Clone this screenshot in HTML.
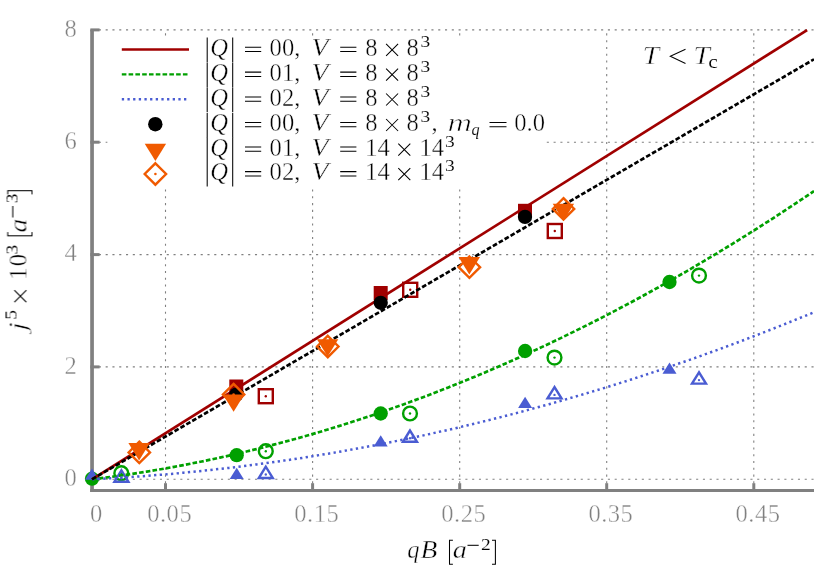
<!DOCTYPE html>
<html><head><meta charset="utf-8"><title>chart</title>
<style>html,body{margin:0;padding:0;background:#fff}svg{display:block}</style></head>
<body>
<svg width="814" height="570" viewBox="0 0 814 570">
<rect width="814" height="570" fill="#fff"/>
<line x1="98.85" y1="479.3" x2="814" y2="479.3" stroke="#808080" stroke-width="1.1" stroke-dasharray="2.1 4.687" fill="none"/>
<line x1="98.85" y1="366.9" x2="814" y2="366.9" stroke="#808080" stroke-width="1.1" stroke-dasharray="2.1 4.687" fill="none"/>
<line x1="98.85" y1="254.6" x2="814" y2="254.6" stroke="#808080" stroke-width="1.1" stroke-dasharray="2.1 4.687" fill="none"/>
<line x1="98.85" y1="142.2" x2="814" y2="142.2" stroke="#808080" stroke-width="1.1" stroke-dasharray="2.1 4.687" fill="none"/>
<line x1="98.85" y1="29.9" x2="814" y2="29.9" stroke="#808080" stroke-width="1.1" stroke-dasharray="2.1 4.687" fill="none"/>
<line x1="165.5" y1="490.2" x2="165.5" y2="30" stroke="#808080" stroke-width="1.1" stroke-dasharray="2.1 4.687" fill="none"/>
<line x1="312.6" y1="490.2" x2="312.6" y2="30" stroke="#808080" stroke-width="1.1" stroke-dasharray="2.1 4.687" fill="none"/>
<line x1="459.7" y1="490.2" x2="459.7" y2="30" stroke="#808080" stroke-width="1.1" stroke-dasharray="2.1 4.687" fill="none"/>
<line x1="606.7" y1="490.2" x2="606.7" y2="30" stroke="#808080" stroke-width="1.1" stroke-dasharray="2.1 4.687" fill="none"/>
<line x1="753.8" y1="490.2" x2="753.8" y2="30" stroke="#808080" stroke-width="1.1" stroke-dasharray="2.1 4.687" fill="none"/>
<rect x="107.5" y="37" width="438.5" height="151.5" fill="#fff"/>
<path d="M92.05 29.6V492.1" stroke="#808080" stroke-width="3.7" fill="none"/>
<path d="M90.2 490.5H814" stroke="#808080" stroke-width="3.2" fill="none"/>
<line x1="90.35" y1="479.3" x2="99.6" y2="479.3" stroke="#808080" stroke-width="3"/>
<line x1="90.35" y1="366.9" x2="99.6" y2="366.9" stroke="#808080" stroke-width="3"/>
<line x1="90.35" y1="254.6" x2="99.6" y2="254.6" stroke="#808080" stroke-width="3"/>
<line x1="90.35" y1="142.2" x2="99.6" y2="142.2" stroke="#808080" stroke-width="3"/>
<line x1="90.35" y1="29.9" x2="99.6" y2="29.9" stroke="#808080" stroke-width="3"/>
<line x1="165.5" y1="490" x2="165.5" y2="483.2" stroke="#808080" stroke-width="3"/>
<line x1="312.6" y1="490" x2="312.6" y2="483.2" stroke="#808080" stroke-width="3"/>
<line x1="459.7" y1="490" x2="459.7" y2="483.2" stroke="#808080" stroke-width="3"/>
<line x1="606.7" y1="490" x2="606.7" y2="483.2" stroke="#808080" stroke-width="3"/>
<line x1="753.8" y1="490" x2="753.8" y2="483.2" stroke="#808080" stroke-width="3"/>
<g>
<rect x="229.3" y="379.5" width="14.0" height="14.0" fill="#a00000"/>
<rect x="373.7" y="286.0" width="14.0" height="14.0" fill="#a00000"/>
<rect x="518.0" y="203.8" width="14.0" height="14.0" fill="#a00000"/>
<rect x="258.8" y="389.2" width="14.0" height="14.0" fill="none" stroke="#a00000" stroke-width="2.4"/><circle cx="265.8" cy="396.2" r="1.2" fill="#a00000"/>
<rect x="403.2" y="282.8" width="14.0" height="14.0" fill="none" stroke="#a00000" stroke-width="2.4"/><circle cx="410.2" cy="289.8" r="1.2" fill="#a00000"/>
<rect x="547.8" y="224.0" width="14.0" height="14.0" fill="none" stroke="#a00000" stroke-width="2.4"/><circle cx="554.8" cy="231.0" r="1.2" fill="#a00000"/>
<circle cx="92.0" cy="478.7" r="7.15" fill="#00a000"/>
<circle cx="236.7" cy="455.2" r="7.15" fill="#00a000"/>
<circle cx="380.7" cy="413.5" r="7.15" fill="#00a000"/>
<circle cx="525.1" cy="351.0" r="7.15" fill="#00a000"/>
<circle cx="669.5" cy="282.0" r="7.15" fill="#00a000"/>
<circle cx="121.3" cy="473.2" r="6.9" fill="none" stroke="#00a000" stroke-width="2.4"/><circle cx="121.3" cy="473.2" r="1.2" fill="#00a000"/>
<circle cx="265.8" cy="451.2" r="6.9" fill="none" stroke="#00a000" stroke-width="2.4"/><circle cx="265.8" cy="451.2" r="1.2" fill="#00a000"/>
<circle cx="410.0" cy="413.5" r="6.9" fill="none" stroke="#00a000" stroke-width="2.4"/><circle cx="410.0" cy="413.5" r="1.2" fill="#00a000"/>
<circle cx="554.5" cy="357.6" r="6.9" fill="none" stroke="#00a000" stroke-width="2.4"/><circle cx="554.5" cy="357.6" r="1.2" fill="#00a000"/>
<circle cx="699.0" cy="275.6" r="6.9" fill="none" stroke="#00a000" stroke-width="2.4"/><circle cx="699.0" cy="275.6" r="1.2" fill="#00a000"/>
<path d="M92.0 468.4L85.0 479.7H99.0Z" fill="#4a5cd2"/>
<path d="M236.7 467.8L229.7 479.1H243.7Z" fill="#4a5cd2"/>
<path d="M380.7 435.3L373.7 446.6H387.7Z" fill="#4a5cd2"/>
<path d="M525.1 396.7L518.1 408.0H532.1Z" fill="#4a5cd2"/>
<path d="M669.5 362.5L662.5 373.8H676.5Z" fill="#4a5cd2"/>
<path d="M121.4 470.4L114.4 481.7H128.4Z" fill="none" stroke="#4a5cd2" stroke-width="2.4" stroke-linejoin="miter"/><circle cx="121.4" cy="478.2" r="1.2" fill="#4a5cd2"/>
<path d="M265.8 466.7L258.8 478.0H272.8Z" fill="none" stroke="#4a5cd2" stroke-width="2.4" stroke-linejoin="miter"/><circle cx="265.8" cy="474.5" r="1.2" fill="#4a5cd2"/>
<path d="M410.0 430.5L403.0 441.8H417.0Z" fill="none" stroke="#4a5cd2" stroke-width="2.4" stroke-linejoin="miter"/><circle cx="410.0" cy="438.3" r="1.2" fill="#4a5cd2"/>
<path d="M554.5 387.1L547.5 398.4H561.5Z" fill="none" stroke="#4a5cd2" stroke-width="2.4" stroke-linejoin="miter"/><circle cx="554.5" cy="394.9" r="1.2" fill="#4a5cd2"/>
<path d="M699.0 372.3L692.0 383.6H706.0Z" fill="none" stroke="#4a5cd2" stroke-width="2.4" stroke-linejoin="miter"/><circle cx="699.0" cy="380.1" r="1.2" fill="#4a5cd2"/>
<line x1="92" y1="479.3" x2="807.1" y2="30.1" stroke="#a00000" stroke-width="2.7"/>
<path d="M92.0 479.3L101.1 478.2L110.3 477.0L119.4 475.7L128.6 474.4L137.7 473.0L146.8 471.6L156.0 470.0L165.1 468.5L174.3 466.8L183.4 465.1L192.5 463.3L201.7 461.5L210.8 459.6L219.9 457.6L229.1 455.6L238.2 453.5L247.4 451.3L256.5 449.1L265.6 446.8L274.8 444.4L283.9 442.0L293.1 439.5L302.2 437.0L311.3 434.4L320.5 431.7L329.6 428.9L338.8 426.1L347.9 423.3L357.0 420.3L366.2 417.3L375.3 414.3L384.5 411.1L393.6 407.9L402.7 404.7L411.9 401.3L421.0 398.0L430.2 394.5L439.3 391.0L448.4 387.4L457.6 383.7L466.7 380.0L475.8 376.3L485.0 372.4L494.1 368.5L503.3 364.5L512.4 360.5L521.5 356.4L530.7 352.2L539.8 348.0L549.0 343.7L558.1 339.4L567.2 334.9L576.4 330.4L585.5 325.9L594.7 321.3L603.8 316.6L612.9 311.9L622.1 307.0L631.2 302.2L640.4 297.2L649.5 292.2L658.6 287.2L667.8 282.0L676.9 276.8L686.1 271.6L695.2 266.2L704.3 260.8L713.5 255.4L722.6 249.9L731.7 244.3L740.9 238.6L750.0 232.9L759.2 227.1L768.3 221.3L777.4 215.4L786.6 209.4L795.7 203.4L804.9 197.3L814.0 191.1" fill="none" stroke="#00a000" stroke-width="2.7" stroke-dasharray="4.6 2.19"/>
<path d="M92.0 479.3L101.1 478.8L110.3 478.3L119.4 477.8L128.6 477.2L137.7 476.5L146.8 475.9L156.0 475.1L165.1 474.4L174.3 473.6L183.4 472.7L192.5 471.8L201.7 470.9L210.8 469.9L219.9 468.9L229.1 467.9L238.2 466.8L247.4 465.6L256.5 464.4L265.6 463.2L274.8 461.9L283.9 460.6L293.1 459.3L302.2 457.9L311.3 456.4L320.5 454.9L329.6 453.4L338.8 451.9L347.9 450.2L357.0 448.6L366.2 446.9L375.3 445.2L384.5 443.4L393.6 441.6L402.7 439.7L411.9 437.8L421.0 435.9L430.2 433.9L439.3 431.8L448.4 429.8L457.6 427.7L466.7 425.5L475.8 423.3L485.0 421.1L494.1 418.8L503.3 416.5L512.4 414.1L521.5 411.7L530.7 409.2L539.8 406.7L549.0 404.2L558.1 401.6L567.2 399.0L576.4 396.3L585.5 393.6L594.7 390.9L603.8 388.1L612.9 385.3L622.1 382.4L631.2 379.5L640.4 376.5L649.5 373.5L658.6 370.5L667.8 367.4L676.9 364.2L686.1 361.1L695.2 357.9L704.3 354.6L713.5 351.3L722.6 348.0L731.7 344.6L740.9 341.2L750.0 337.7L759.2 334.2L768.3 330.6L777.4 327.0L786.6 323.4L795.7 319.7L804.9 316.0L814.0 312.3" fill="none" stroke="#4a5cd2" stroke-width="2.5" stroke-dasharray="2.3 3.355"/>
<circle cx="236.3" cy="394.6" r="7.15" fill="#000"/>
<circle cx="380.7" cy="302.8" r="7.15" fill="#000"/>
<circle cx="525.0" cy="216.9" r="7.15" fill="#000"/>
<line x1="92" y1="479.3" x2="814" y2="59.3" stroke="#000" stroke-width="2.7" stroke-dasharray="4.7 2.12"/>
<path d="M139.1 460.5L128.4 443.1H149.8Z" fill="#f05a00"/>
<path d="M233.6 411.7L222.9 394.4H244.3Z" fill="#f05a00"/>
<path d="M327.6 356.6L316.9 339.2H338.3Z" fill="#f05a00"/>
<path d="M469.3 274.5L458.6 257.1H480.0Z" fill="#f05a00"/>
<path d="M563.4 221.0L552.7 203.7H574.1Z" fill="#f05a00"/>
<path d="M139.3 441.7L150.0 452.4L139.3 463.1L128.6 452.4Z" fill="none" stroke="#f05a00" stroke-width="2.4" stroke-linejoin="miter"/><circle cx="139.3" cy="452.4" r="1.3" fill="#f05a00"/>
<path d="M233.6 383.9L244.3 394.6L233.6 405.3L222.9 394.6Z" fill="none" stroke="#f05a00" stroke-width="2.4" stroke-linejoin="miter"/><circle cx="233.6" cy="394.6" r="1.3" fill="#f05a00"/>
<path d="M327.8 335.8L338.5 346.5L327.8 357.2L317.1 346.5Z" fill="none" stroke="#f05a00" stroke-width="2.4" stroke-linejoin="miter"/><circle cx="327.8" cy="346.5" r="1.3" fill="#f05a00"/>
<path d="M469.4 256.5L480.1 267.2L469.4 277.9L458.7 267.2Z" fill="none" stroke="#f05a00" stroke-width="2.4" stroke-linejoin="miter"/><circle cx="469.4" cy="267.2" r="1.3" fill="#f05a00"/>
<path d="M563.5 198.2L574.2 208.9L563.5 219.6L552.8 208.9Z" fill="none" stroke="#f05a00" stroke-width="2.4" stroke-linejoin="miter"/><circle cx="563.5" cy="208.9" r="1.3" fill="#f05a00"/>
</g>
<line x1="121.8" y1="49.5" x2="189" y2="49.5" stroke="#a00000" stroke-width="2.4"/>
<line x1="121.8" y1="74.4" x2="189" y2="74.4" stroke="#00a000" stroke-width="2.4" stroke-dasharray="4.6 2.19"/>
<line x1="121.8" y1="99.3" x2="189" y2="99.3" stroke="#4a5cd2" stroke-width="2.4" stroke-dasharray="2.3 3.355"/>
<circle cx="155.3" cy="124.2" r="7.2" fill="#000"/>
<path d="M155.4 161.1L144.7 143.8H166.1Z" fill="#f05a00"/>
<path d="M155.4 163.3L166.1 174.0L155.4 184.7L144.7 174.0Z" fill="none" stroke="#f05a00" stroke-width="2.4" stroke-linejoin="miter"/><circle cx="155.4" cy="174.0" r="1.3" fill="#f05a00"/>
<g font-family="Liberation Serif, serif" opacity="0.999" stroke="#fff" stroke-width="0.4">
<path d="M207.2 37.5V62.2M232.7 37.5V62.2" stroke="#000" stroke-width="1.05"/>
<text x="210.3" y="56.0" font-size="24.6" font-style="italic" fill="#000" text-anchor="start">Q</text>
<path d="M245 47.2h16.2M245 51.5h16.2" stroke="#000" stroke-width="1.05" fill="none"/>
<text x="269.6" y="56.0" font-size="24.6" fill="#000" text-anchor="start">00,</text>
<text x="311.6" y="56.0" font-size="24.6" font-style="italic" fill="#000" text-anchor="start" textLength="16.98" lengthAdjust="spacingAndGlyphs">V</text>
<path d="M340.2 47.2h16.2M340.2 51.5h16.2" stroke="#000" stroke-width="1.05" fill="none"/>
<text x="365.2" y="56.0" font-size="24.6" fill="#000" text-anchor="start">8</text>
<path d="M386.1 43.8L398.1 55.8M386.1 55.8L398.1 43.8" stroke="#000" stroke-width="1.05" fill="none"/>
<text x="406.6" y="56.0" font-size="24.6" fill="#000" text-anchor="start">8</text>
<text x="420.5" y="47.0" font-size="17.4" fill="#000" text-anchor="start" stroke-width="0.1" textLength="9.74" lengthAdjust="spacingAndGlyphs">3</text>
<path d="M207.2 62.4V87.1M232.7 62.4V87.1" stroke="#000" stroke-width="1.05"/>
<text x="210.3" y="80.9" font-size="24.6" font-style="italic" fill="#000" text-anchor="start">Q</text>
<path d="M245 72.1h16.2M245 76.4h16.2" stroke="#000" stroke-width="1.05" fill="none"/>
<text x="269.6" y="80.9" font-size="24.6" fill="#000" text-anchor="start">01,</text>
<text x="311.6" y="80.9" font-size="24.6" font-style="italic" fill="#000" text-anchor="start" textLength="16.98" lengthAdjust="spacingAndGlyphs">V</text>
<path d="M340.2 72.1h16.2M340.2 76.4h16.2" stroke="#000" stroke-width="1.05" fill="none"/>
<text x="365.2" y="80.9" font-size="24.6" fill="#000" text-anchor="start">8</text>
<path d="M386.1 68.7L398.1 80.7M386.1 80.7L398.1 68.7" stroke="#000" stroke-width="1.05" fill="none"/>
<text x="406.6" y="80.9" font-size="24.6" fill="#000" text-anchor="start">8</text>
<text x="420.5" y="71.9" font-size="17.4" fill="#000" text-anchor="start" stroke-width="0.1" textLength="9.74" lengthAdjust="spacingAndGlyphs">3</text>
<path d="M207.2 87.2V111.9M232.7 87.2V111.9" stroke="#000" stroke-width="1.05"/>
<text x="210.3" y="105.7" font-size="24.6" font-style="italic" fill="#000" text-anchor="start">Q</text>
<path d="M245 96.9h16.2M245 101.2h16.2" stroke="#000" stroke-width="1.05" fill="none"/>
<text x="269.6" y="105.7" font-size="24.6" fill="#000" text-anchor="start">02,</text>
<text x="311.6" y="105.7" font-size="24.6" font-style="italic" fill="#000" text-anchor="start" textLength="16.98" lengthAdjust="spacingAndGlyphs">V</text>
<path d="M340.2 96.9h16.2M340.2 101.2h16.2" stroke="#000" stroke-width="1.05" fill="none"/>
<text x="365.2" y="105.7" font-size="24.6" fill="#000" text-anchor="start">8</text>
<path d="M386.1 93.5L398.1 105.5M386.1 105.5L398.1 93.5" stroke="#000" stroke-width="1.05" fill="none"/>
<text x="406.6" y="105.7" font-size="24.6" fill="#000" text-anchor="start">8</text>
<text x="420.5" y="96.7" font-size="17.4" fill="#000" text-anchor="start" stroke-width="0.1" textLength="9.74" lengthAdjust="spacingAndGlyphs">3</text>
<path d="M207.2 112.7V137.4M232.7 112.7V137.4" stroke="#000" stroke-width="1.05"/>
<text x="210.3" y="131.2" font-size="24.6" font-style="italic" fill="#000" text-anchor="start">Q</text>
<path d="M245 122.4h16.2M245 126.7h16.2" stroke="#000" stroke-width="1.05" fill="none"/>
<text x="269.6" y="131.2" font-size="24.6" fill="#000" text-anchor="start">00,</text>
<text x="311.6" y="131.2" font-size="24.6" font-style="italic" fill="#000" text-anchor="start" textLength="16.98" lengthAdjust="spacingAndGlyphs">V</text>
<path d="M340.2 122.4h16.2M340.2 126.7h16.2" stroke="#000" stroke-width="1.05" fill="none"/>
<text x="365.2" y="131.2" font-size="24.6" fill="#000" text-anchor="start">8</text>
<path d="M386.1 119.0L398.1 131.0M386.1 131.0L398.1 119.0" stroke="#000" stroke-width="1.05" fill="none"/>
<text x="406.6" y="131.2" font-size="24.6" fill="#000" text-anchor="start">8</text>
<text x="420.5" y="122.19999999999999" font-size="17.4" fill="#000" text-anchor="start" stroke-width="0.1" textLength="9.74" lengthAdjust="spacingAndGlyphs">3</text>
<path d="M207.2 137.3V162.0M232.7 137.3V162.0" stroke="#000" stroke-width="1.05"/>
<text x="210.3" y="155.8" font-size="24.6" font-style="italic" fill="#000" text-anchor="start">Q</text>
<path d="M245 147.0h16.2M245 151.3h16.2" stroke="#000" stroke-width="1.05" fill="none"/>
<text x="269.6" y="155.8" font-size="24.6" fill="#000" text-anchor="start">01,</text>
<text x="311.6" y="155.8" font-size="24.6" font-style="italic" fill="#000" text-anchor="start" textLength="16.98" lengthAdjust="spacingAndGlyphs">V</text>
<path d="M340.2 147.0h16.2M340.2 151.3h16.2" stroke="#000" stroke-width="1.05" fill="none"/>
<text x="365.2" y="155.8" font-size="24.6" fill="#000" text-anchor="start">14</text>
<path d="M398.3 143.6L410.3 155.6M398.3 155.6L410.3 143.6" stroke="#000" stroke-width="1.05" fill="none"/>
<text x="419.4" y="155.8" font-size="24.6" fill="#000" text-anchor="start">14</text>
<text x="445" y="146.8" font-size="17.4" fill="#000" text-anchor="start" stroke-width="0.1" textLength="9.74" lengthAdjust="spacingAndGlyphs">3</text>
<path d="M207.2 161.9V186.6M232.7 161.9V186.6" stroke="#000" stroke-width="1.05"/>
<text x="210.3" y="180.4" font-size="24.6" font-style="italic" fill="#000" text-anchor="start">Q</text>
<path d="M245 171.6h16.2M245 175.9h16.2" stroke="#000" stroke-width="1.05" fill="none"/>
<text x="269.6" y="180.4" font-size="24.6" fill="#000" text-anchor="start">02,</text>
<text x="311.6" y="180.4" font-size="24.6" font-style="italic" fill="#000" text-anchor="start" textLength="16.98" lengthAdjust="spacingAndGlyphs">V</text>
<path d="M340.2 171.6h16.2M340.2 175.9h16.2" stroke="#000" stroke-width="1.05" fill="none"/>
<text x="365.2" y="180.4" font-size="24.6" fill="#000" text-anchor="start">14</text>
<path d="M398.3 168.2L410.3 180.2M398.3 180.2L410.3 168.2" stroke="#000" stroke-width="1.05" fill="none"/>
<text x="419.4" y="180.4" font-size="24.6" fill="#000" text-anchor="start">14</text>
<text x="445" y="171.4" font-size="17.4" fill="#000" text-anchor="start" stroke-width="0.1" textLength="9.74" lengthAdjust="spacingAndGlyphs">3</text>
<text x="431.5" y="131.2" font-size="24.6" fill="#000" text-anchor="start">,</text>
<text x="447.6" y="131.2" font-size="24.6" font-style="italic" fill="#000" text-anchor="start" stroke-width="0.63" textLength="24.51" lengthAdjust="spacingAndGlyphs">m</text>
<text x="471.6" y="134.6" font-size="16.2" font-style="italic" fill="#000" text-anchor="start" stroke-width="0.1">q</text>
<path d="M489.5 122.4h17M489.5 126.7h17" stroke="#000" stroke-width="1.05" fill="none"/>
<text x="514.2" y="131.2" font-size="24.6" fill="#000" text-anchor="start">0.0</text>
<text x="642.4" y="63.5" font-size="24.6" font-style="italic" fill="#000" text-anchor="start" stroke-width="0.53" textLength="16.69" lengthAdjust="spacingAndGlyphs">T</text>
<path d="M685.5 49.2L670.3 56.3L685.5 63.4" stroke="#000" stroke-width="1.05" fill="none"/>
<text x="693.2" y="63.5" font-size="24.6" font-style="italic" fill="#000" text-anchor="start" stroke-width="0.53" textLength="16.69" lengthAdjust="spacingAndGlyphs">T</text>
<text x="708.2" y="68.2" font-size="18" fill="#000" text-anchor="start" stroke-width="0.1" textLength="9.59" lengthAdjust="spacingAndGlyphs">c</text>
<text x="76.9" y="485.9" font-size="24.6" fill="#808080" text-anchor="end">0</text>
<text x="76.9" y="373.5" font-size="24.6" fill="#808080" text-anchor="end">2</text>
<text x="76.9" y="261.2" font-size="24.6" fill="#808080" text-anchor="end">4</text>
<text x="76.9" y="148.8" font-size="24.6" fill="#808080" text-anchor="end">6</text>
<text x="76.9" y="36.5" font-size="24.6" fill="#808080" text-anchor="end">8</text>
<text x="96.2" y="522" font-size="24.6" fill="#808080" text-anchor="middle">0</text>
<text x="169.7" y="522" font-size="24.6" fill="#808080" text-anchor="middle" letter-spacing="0.5">0.05</text>
<text x="316.8" y="522" font-size="24.6" fill="#808080" text-anchor="middle" letter-spacing="0.5">0.15</text>
<text x="463.8" y="522" font-size="24.6" fill="#808080" text-anchor="middle" letter-spacing="0.5">0.25</text>
<text x="610.9" y="522" font-size="24.6" fill="#808080" text-anchor="middle" letter-spacing="0.5">0.35</text>
<text x="758.0" y="522" font-size="24.6" fill="#808080" text-anchor="middle" letter-spacing="0.5">0.45</text>
<text x="407.3" y="558.3" font-size="24.6" font-style="italic" fill="#000" text-anchor="start">q</text>
<text x="420.4" y="558.3" font-size="24.6" font-style="italic" fill="#000" text-anchor="start" textLength="16.83" lengthAdjust="spacingAndGlyphs">B</text>
<path d="M452.9 540.3H449.5V564.2H452.9M492 540.3H495.4V564.2H492" stroke="#000" stroke-width="1.05" fill="none"/>
<text x="452.8" y="558.3" font-size="24.6" font-style="italic" fill="#000" text-anchor="start" textLength="14.14" lengthAdjust="spacingAndGlyphs">a</text>
<path d="M467.5 545.3H478.7" stroke="#000" stroke-width="1.05"/>
<text x="480.9" y="550.3" font-size="17.4" fill="#000" text-anchor="start" stroke-width="0.1" textLength="9.74" lengthAdjust="spacingAndGlyphs">2</text>
<g transform="translate(26.5,335) rotate(-90)">
<text x="4.0" y="0" font-size="24.6" font-style="italic" fill="#000" text-anchor="start" stroke-width="0.58" textLength="8.89" lengthAdjust="spacingAndGlyphs">j</text>
<text x="15.3" y="-10.2" font-size="17.4" fill="#000" text-anchor="start" stroke-width="0.1" textLength="9.74" lengthAdjust="spacingAndGlyphs">5</text>
<path d="M32.8 -12.2L44.8 -0.2M32.8 -0.2L44.8 -12.2" stroke="#000" stroke-width="1.05" fill="none"/>
<text x="55.2" y="0" font-size="24.6" fill="#000" text-anchor="start" letter-spacing="1.2">10</text>
<text x="80.6" y="-9.5" font-size="17.4" fill="#000" text-anchor="start" stroke-width="0.1" textLength="9.74" lengthAdjust="spacingAndGlyphs">3</text>
<path d="M102.9 -18.8H99.2V5.5H102.9M140.6 -18.8H144.3V5.5H140.6" stroke="#000" stroke-width="1.05" fill="none"/>
<text x="102.6" y="0" font-size="24.6" font-style="italic" fill="#000" text-anchor="start" textLength="13.78" lengthAdjust="spacingAndGlyphs">a</text>
<path d="M117.5 -13.7H129" stroke="#000" stroke-width="1.05"/>
<text x="131.8" y="-9.5" font-size="17.4" fill="#000" text-anchor="start" stroke-width="0.1" textLength="9.74" lengthAdjust="spacingAndGlyphs">3</text>
</g>
</g>
</svg>
</body></html>
